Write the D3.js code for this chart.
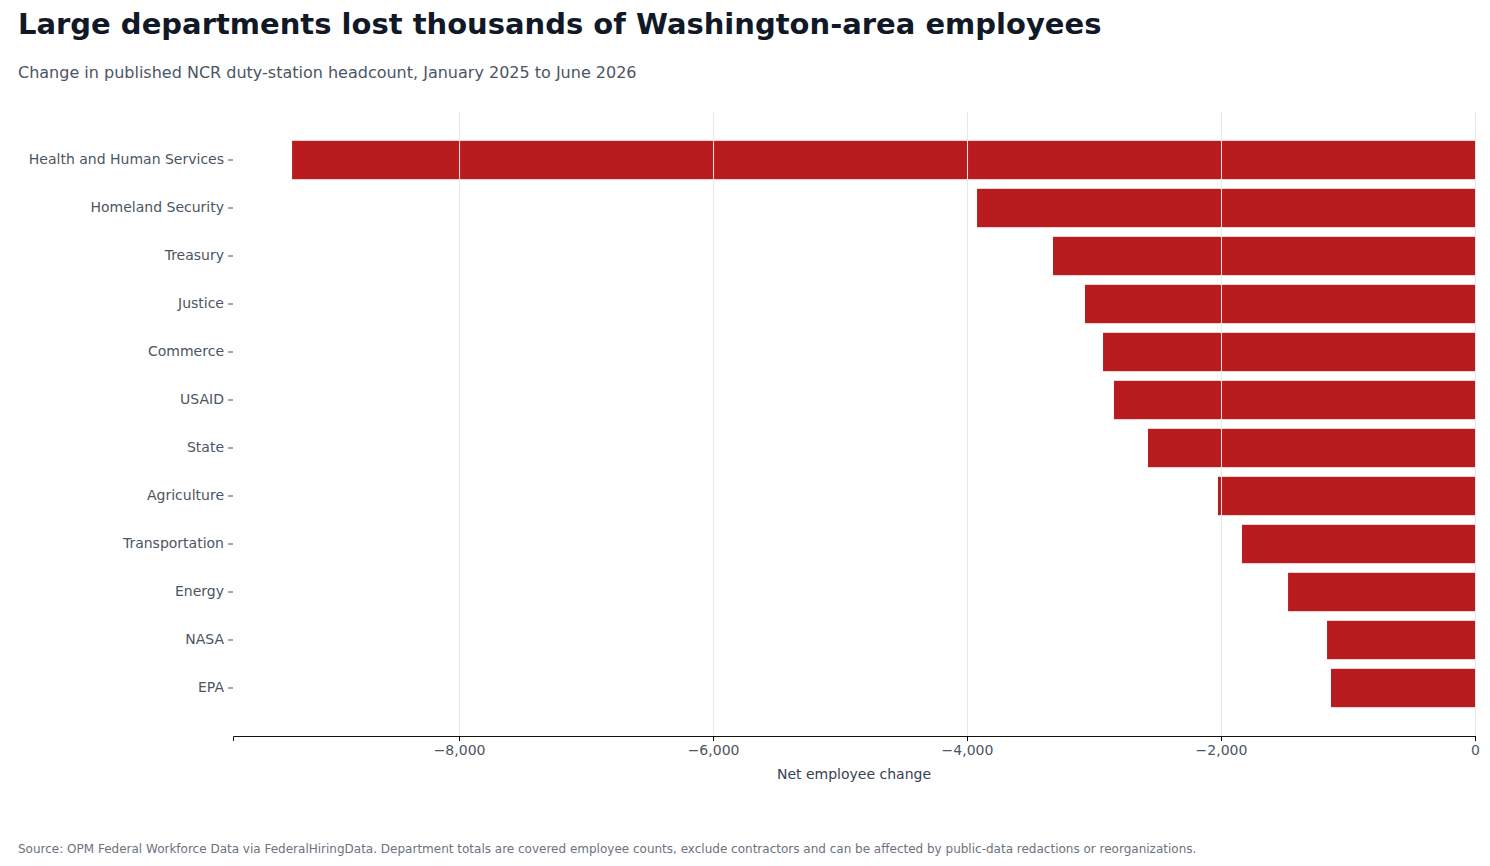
<!DOCTYPE html>
<html>
<head>
<meta charset="utf-8">
<script src="https://cdn.jsdelivr.net/npm/d3@7"></script>
<style>
  body { margin: 0; background: #fff; font-family: "DejaVu Sans", sans-serif; }
  .title { font-size: 29px; font-weight: bold; fill: #111827; }
  .subtitle { font-size: 16px; fill: #4b5563; }
  .source { font-size: 12px; fill: #6b7280; }
  .axis text { font-size: 14px; fill: #4b5563; font-family: "DejaVu Sans", sans-serif; }
  .axis__y path { display: none; }
  .axis__y line { stroke: #4b5563; }
  .gridlines line { stroke: #e5e7eb; }
  .gridlines path { display: none; }
</style>
</head>
<body>
<svg id="chart" width="1490" height="866"></svg>
<script>
const departments = ["Health and Human Services", "Homeland Security", "Treasury", "Justice",
  "Commerce", "USAID", "State", "Agriculture", "Transportation", "Energy", "NASA", "EPA"];
const changes = [-9315, -3921, -3323, -3071, -2929, -2843, -2575, -2024, -1835, -1472, -1165, -1134];
const xTicks = [-8000, -6000, -4000, -2000, 0];

const margin = { top: 112, left: 233, right: 15, bottom: 130 };
const width = 1490 - margin.left - margin.right;
const height = 866 - margin.top - margin.bottom;

const svgRoot = d3.select("#chart");
svgRoot.append("text").attr("class", "title").attr("x", 18).attr("y", 34)
  .text("Large departments lost thousands of Washington-area employees");
svgRoot.append("text").attr("class", "subtitle").attr("x", 18).attr("y", 78)
  .text("Change in published NCR duty-station headcount, January 2025 to June 2026");
svgRoot.append("text").attr("class", "source").attr("x", 18).attr("y", 853)
  .text("Source: OPM Federal Workforce Data via FederalHiringData. Department totals are covered employee counts, exclude contractors and can be affected by public-data redactions or reorganizations.");

const svg = svgRoot.append("g").attr("transform", `translate(${margin.left},${margin.top})`);

const xScale = d3.scaleLinear().domain([-9780, 0]).range([0, width]);
const yScale = d3.scaleBand().domain(departments).range([0, height])
  .paddingInner(0.2).paddingOuter(0.6);

svg.selectAll("rect.bar")
  .data(departments)
  .join("rect")
  .attr("class", "bar")
  .attr("x", (d, i) => xScale(changes[i]))
  .attr("width", (d, i) => xScale(0) - xScale(changes[i]))
  .attr("y", (d) => yScale(d))
  .attr("height", yScale.bandwidth())
  .attr("fill", "#b91c1e");

svg.append("g")
  .attr("class", "gridlines")
  .call(d3.axisBottom(xScale).tickValues(xTicks).tickSize(height).tickFormat(""));

svg.append("g")
  .attr("class", "axis axis__x")
  .attr("transform", `translate(0,${height})`)
  .call(d3.axisBottom(xScale).tickValues(xTicks).tickSize(5).tickPadding(4))
  .call((g) => g.select("path").attr("stroke", "#111"));

svg.append("g")
  .attr("class", "axis axis__y")
  .call(d3.axisLeft(yScale).tickSize(5).tickPadding(4));

svg.append("text")
  .attr("text-anchor", "middle")
  .attr("x", width / 2)
  .attr("y", height + 43)
  .attr("font-size", 14)
  .attr("fill", "#374151")
  .text("Net employee change");
</script>
</body>
</html>
